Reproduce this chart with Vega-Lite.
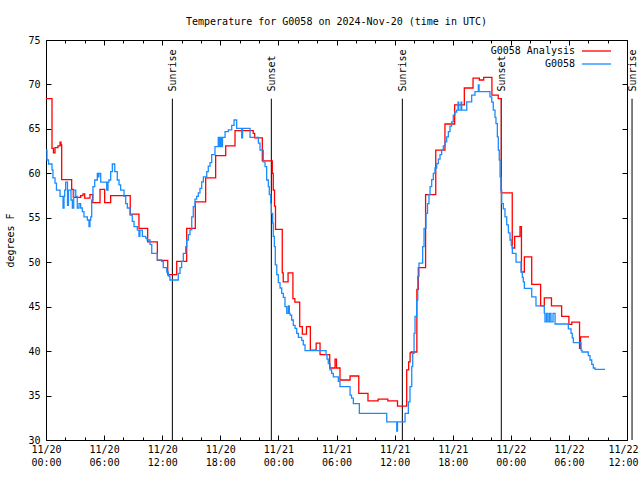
{
  "$schema": "https://vega.github.io/schema/vega-lite/v6.json",
  "width": 581,
  "height": 400,
  "autosize": {"type": "none"},
  "padding": {"left": 46, "top": 40, "right": 13, "bottom": 40},
  "background": "white",
  "title": {"text": "Temperature for G0058 on 2024-Nov-20 (time in UTC)", "font": "DejaVu Sans Mono", "fontSize": 10, "fontWeight": "normal", "color": "black", "offset": 8, "anchor": "middle"},
  "config": {
    "view": {"stroke": "black", "strokeWidth": 1},
    "font": "DejaVu Sans Mono",
    "axis": {"grid": false, "domain": false, "tickColor": "black", "labelColor": "black", "labelFont": "DejaVu Sans Mono", "labelFontSize": 10, "titleFont": "DejaVu Sans Mono", "titleFontSize": 10, "titleFontWeight": "normal", "titleColor": "black"}
  },
  "datasets": {
    "sun": [
      {"h": 13.05, "label": "Sunrise"},
      {"h": 23.27, "label": "Sunset"},
      {"h": 36.8, "label": "Sunrise"},
      {"h": 47.02, "label": "Sunset"},
      {"h": 60.52, "label": "Sunrise"}
    ],
    "analysis": [
      {"h": 0, "t": 68.4}, {"h": 0.62, "t": 62.8}, {"h": 0.77, "t": 62.3}, {"h": 0.93, "t": 62.9}, {"h": 1.24, "t": 63.1}, {"h": 1.45, "t": 63.5}, {"h": 1.55, "t": 63.2}, {"h": 1.62, "t": 59.3}, {"h": 2.65, "t": 58.2}, {"h": 2.82, "t": 57.3}, {"h": 3.58, "t": 57.5}, {"h": 3.82, "t": 57.7}, {"h": 4.0, "t": 57.2}, {"h": 4.54, "t": 57.6}, {"h": 4.82, "t": 56.7}, {"h": 5.58, "t": 58.2}, {"h": 6.06, "t": 56.7}, {"h": 6.68, "t": 57.5}, {"h": 8.7, "t": 55.4}, {"h": 9.6, "t": 53.8}, {"h": 10.5, "t": 52.3}, {"h": 11.5, "t": 50.2}, {"h": 12.57, "t": 48.6}, {"h": 13.5, "t": 50.1}, {"h": 14.53, "t": 53.8}, {"h": 15.42, "t": 56.8}, {"h": 16.49, "t": 59.5}, {"h": 17.52, "t": 62.0}, {"h": 18.56, "t": 63.1}, {"h": 19.52, "t": 64.8}, {"h": 21.4, "t": 64.5}, {"h": 21.55, "t": 64.0}, {"h": 22.34, "t": 61.4}, {"h": 23.37, "t": 60.0}, {"h": 23.47, "t": 58.1}, {"h": 23.6, "t": 56.3}, {"h": 23.7, "t": 53.7}, {"h": 24.4, "t": 48.8}, {"h": 24.5, "t": 47.8}, {"h": 25.0, "t": 48.8}, {"h": 25.5, "t": 45.9}, {"h": 25.7, "t": 45.5}, {"h": 26.2, "t": 42.75}, {"h": 26.47, "t": 41.9}, {"h": 26.9, "t": 42.75}, {"h": 27.3, "t": 40.1}, {"h": 27.9, "t": 40.9}, {"h": 28.3, "t": 39.6}, {"h": 29.3, "t": 38.1}, {"h": 29.85, "t": 39.1}, {"h": 30.0, "t": 38.1}, {"h": 30.36, "t": 36.75}, {"h": 31.4, "t": 37.2}, {"h": 32.3, "t": 35.25}, {"h": 33.25, "t": 34.4}, {"h": 34.3, "t": 34.6}, {"h": 35.3, "t": 34.4}, {"h": 36.3, "t": 33.8}, {"h": 37.25, "t": 37.9}, {"h": 37.45, "t": 38.8}, {"h": 37.6, "t": 39.8}, {"h": 37.7, "t": 39.9}, {"h": 38.3, "t": 46.95}, {"h": 38.45, "t": 49.4}, {"h": 39.2, "t": 57.6}, {"h": 40.25, "t": 62.6}, {"h": 41.2, "t": 65.55}, {"h": 42.2, "t": 67.7}, {"h": 43.2, "t": 69.6}, {"h": 44.1, "t": 70.7}, {"h": 44.75, "t": 70.5}, {"h": 45.2, "t": 70.8}, {"h": 46.05, "t": 68.8}, {"h": 46.7, "t": 68.4}, {"h": 47.02, "t": 57.8}, {"h": 48.15, "t": 51.6}, {"h": 48.4, "t": 52.9}, {"h": 48.95, "t": 54.0}, {"h": 49.1, "t": 48.9}, {"h": 49.4, "t": 50.6}, {"h": 50.16, "t": 47.5}, {"h": 51.08, "t": 45.1}, {"h": 51.46, "t": 46.0}, {"h": 52.2, "t": 45.1}, {"h": 53.25, "t": 43.9}, {"h": 54.0, "t": 43.0}, {"h": 54.3, "t": 43.25}, {"h": 55.1, "t": 40.3}, {"h": 55.2, "t": 41.6}, {"h": 56.08, "t": 41.6}
    ],
    "obs": [
      {"h": 0, "t": 62.6}, {"h": 0.1, "t": 61.5}, {"h": 0.26, "t": 61.05}, {"h": 0.62, "t": 60.4}, {"h": 0.72, "t": 59.5}, {"h": 0.93, "t": 58.9}, {"h": 1.08, "t": 58.1}, {"h": 1.45, "t": 57.4}, {"h": 1.76, "t": 56.1}, {"h": 1.86, "t": 57.4}, {"h": 1.93, "t": 58.1}, {"h": 2.03, "t": 59.0}, {"h": 2.22, "t": 56.4}, {"h": 2.32, "t": 58.1}, {"h": 2.58, "t": 57.0}, {"h": 2.72, "t": 56.1}, {"h": 2.86, "t": 58.1}, {"h": 3.07, "t": 57.4}, {"h": 3.23, "t": 56.1}, {"h": 3.41, "t": 56.6}, {"h": 3.58, "t": 56.1}, {"h": 3.75, "t": 55.7}, {"h": 3.92, "t": 55.1}, {"h": 4.27, "t": 54.75}, {"h": 4.44, "t": 54.0}, {"h": 4.54, "t": 54.75}, {"h": 4.62, "t": 55.1}, {"h": 4.72, "t": 57.0}, {"h": 4.85, "t": 58.5}, {"h": 5.03, "t": 59.25}, {"h": 5.3, "t": 60.0}, {"h": 5.37, "t": 59.6}, {"h": 5.47, "t": 60.0}, {"h": 5.65, "t": 59.0}, {"h": 6.27, "t": 58.1}, {"h": 6.4, "t": 59.0}, {"h": 6.5, "t": 59.25}, {"h": 6.68, "t": 60.2}, {"h": 6.85, "t": 61.05}, {"h": 7.1, "t": 60.2}, {"h": 7.36, "t": 59.25}, {"h": 7.54, "t": 58.7}, {"h": 7.71, "t": 58.1}, {"h": 8.06, "t": 57.4}, {"h": 8.23, "t": 56.6}, {"h": 8.4, "t": 56.1}, {"h": 8.68, "t": 55.3}, {"h": 8.91, "t": 54.6}, {"h": 9.09, "t": 54.0}, {"h": 9.43, "t": 53.6}, {"h": 9.6, "t": 52.9}, {"h": 9.7, "t": 53.6}, {"h": 9.95, "t": 52.9}, {"h": 10.3, "t": 52.7}, {"h": 10.43, "t": 52.5}, {"h": 10.74, "t": 52.0}, {"h": 10.92, "t": 51.0}, {"h": 11.5, "t": 50.25}, {"h": 11.95, "t": 50.1}, {"h": 12.11, "t": 49.4}, {"h": 12.47, "t": 48.9}, {"h": 12.63, "t": 48.45}, {"h": 12.8, "t": 48.0}, {"h": 13.66, "t": 48.75}, {"h": 13.84, "t": 49.4}, {"h": 14.01, "t": 50.1}, {"h": 14.18, "t": 51.0}, {"h": 14.43, "t": 51.75}, {"h": 14.53, "t": 52.5}, {"h": 14.7, "t": 53.1}, {"h": 14.87, "t": 53.65}, {"h": 15.05, "t": 55.1}, {"h": 15.21, "t": 56.25}, {"h": 15.39, "t": 57.1}, {"h": 15.56, "t": 57.4}, {"h": 15.73, "t": 57.8}, {"h": 15.9, "t": 58.3}, {"h": 16.08, "t": 59.05}, {"h": 16.25, "t": 59.6}, {"h": 16.6, "t": 60.2}, {"h": 16.76, "t": 60.8}, {"h": 16.94, "t": 61.2}, {"h": 17.11, "t": 62.1}, {"h": 17.45, "t": 63.0}, {"h": 17.79, "t": 64.05}, {"h": 17.9, "t": 63.0}, {"h": 18.0, "t": 64.05}, {"h": 18.12, "t": 63.0}, {"h": 18.23, "t": 64.05}, {"h": 18.49, "t": 64.7}, {"h": 18.83, "t": 64.9}, {"h": 19.18, "t": 65.4}, {"h": 19.42, "t": 66.0}, {"h": 19.69, "t": 65.05}, {"h": 20.21, "t": 64.0}, {"h": 20.3, "t": 65.05}, {"h": 21.07, "t": 64.05}, {"h": 21.93, "t": 63.4}, {"h": 22.1, "t": 62.6}, {"h": 22.44, "t": 61.3}, {"h": 22.62, "t": 60.75}, {"h": 22.79, "t": 59.25}, {"h": 22.96, "t": 58.5}, {"h": 23.06, "t": 57.6}, {"h": 23.21, "t": 56.6}, {"h": 23.27, "t": 55.5}, {"h": 23.41, "t": 54.4}, {"h": 23.47, "t": 52.9}, {"h": 23.58, "t": 51.75}, {"h": 23.68, "t": 49.7}, {"h": 23.83, "t": 48.6}, {"h": 23.99, "t": 47.7}, {"h": 24.17, "t": 47.1}, {"h": 24.34, "t": 46.5}, {"h": 24.51, "t": 46.05}, {"h": 24.68, "t": 45.0}, {"h": 24.86, "t": 44.25}, {"h": 25.02, "t": 45.1}, {"h": 25.13, "t": 44.25}, {"h": 25.2, "t": 44.05}, {"h": 25.37, "t": 43.5}, {"h": 25.54, "t": 42.9}, {"h": 25.72, "t": 42.55}, {"h": 25.89, "t": 42.0}, {"h": 26.06, "t": 41.55}, {"h": 26.41, "t": 41.2}, {"h": 26.57, "t": 40.7}, {"h": 26.75, "t": 40.05}, {"h": 28.92, "t": 39.6}, {"h": 29.02, "t": 39.1}, {"h": 29.15, "t": 38.6}, {"h": 29.33, "t": 37.9}, {"h": 29.5, "t": 37.5}, {"h": 29.67, "t": 37.1}, {"h": 30.19, "t": 36.6}, {"h": 30.36, "t": 36.0}, {"h": 31.4, "t": 35.05}, {"h": 31.55, "t": 34.7}, {"h": 31.74, "t": 34.1}, {"h": 32.36, "t": 33.0}, {"h": 35.19, "t": 32.05}, {"h": 36.22, "t": 31.0}, {"h": 36.3, "t": 32.05}, {"h": 37.08, "t": 33.0}, {"h": 37.42, "t": 34.3}, {"h": 37.59, "t": 36.0}, {"h": 37.77, "t": 38.25}, {"h": 37.87, "t": 39.75}, {"h": 38.01, "t": 42.0}, {"h": 38.11, "t": 43.9}, {"h": 38.28, "t": 45.75}, {"h": 38.39, "t": 48.4}, {"h": 38.52, "t": 49.9}, {"h": 38.9, "t": 51.75}, {"h": 39.04, "t": 53.8}, {"h": 39.24, "t": 55.5}, {"h": 39.4, "t": 56.6}, {"h": 39.55, "t": 57.6}, {"h": 39.66, "t": 58.5}, {"h": 39.83, "t": 59.3}, {"h": 40.0, "t": 60.0}, {"h": 40.17, "t": 60.6}, {"h": 40.35, "t": 61.1}, {"h": 40.52, "t": 61.6}, {"h": 40.69, "t": 62.1}, {"h": 40.86, "t": 62.6}, {"h": 41.03, "t": 63.1}, {"h": 41.21, "t": 63.55}, {"h": 41.38, "t": 64.1}, {"h": 41.55, "t": 64.7}, {"h": 41.72, "t": 65.3}, {"h": 41.89, "t": 65.8}, {"h": 42.06, "t": 66.55}, {"h": 42.23, "t": 66.9}, {"h": 42.41, "t": 67.1}, {"h": 42.55, "t": 68.0}, {"h": 42.62, "t": 67.1}, {"h": 42.86, "t": 68.0}, {"h": 42.93, "t": 67.1}, {"h": 43.45, "t": 68.05}, {"h": 43.96, "t": 68.8}, {"h": 44.3, "t": 69.2}, {"h": 44.65, "t": 69.95}, {"h": 44.72, "t": 69.2}, {"h": 45.85, "t": 68.6}, {"h": 46.03, "t": 68.0}, {"h": 46.19, "t": 67.1}, {"h": 46.37, "t": 66.3}, {"h": 46.47, "t": 65.6}, {"h": 46.61, "t": 64.1}, {"h": 46.71, "t": 62.6}, {"h": 46.81, "t": 61.5}, {"h": 46.89, "t": 59.6}, {"h": 46.99, "t": 58.1}, {"h": 47.06, "t": 56.6}, {"h": 47.23, "t": 56.0}, {"h": 47.4, "t": 55.1}, {"h": 47.58, "t": 54.2}, {"h": 47.75, "t": 53.3}, {"h": 47.92, "t": 52.5}, {"h": 48.05, "t": 51.9}, {"h": 48.16, "t": 51.0}, {"h": 48.54, "t": 50.0}, {"h": 49.06, "t": 48.9}, {"h": 49.19, "t": 48.3}, {"h": 49.29, "t": 47.8}, {"h": 49.4, "t": 47.05}, {"h": 50.16, "t": 46.1}, {"h": 50.6, "t": 45.1}, {"h": 51.46, "t": 44.25}, {"h": 51.53, "t": 43.3}, {"h": 51.69, "t": 44.25}, {"h": 51.84, "t": 43.3}, {"h": 52.0, "t": 44.25}, {"h": 52.15, "t": 43.3}, {"h": 52.36, "t": 44.25}, {"h": 52.57, "t": 43.05}, {"h": 53.94, "t": 42.5}, {"h": 54.22, "t": 42.0}, {"h": 54.35, "t": 41.5}, {"h": 54.46, "t": 40.95}, {"h": 55.25, "t": 40.1}, {"h": 55.35, "t": 39.9}, {"h": 56.0, "t": 39.5}, {"h": 56.18, "t": 39.0}, {"h": 56.36, "t": 38.5}, {"h": 56.52, "t": 38.1}, {"h": 56.7, "t": 37.95}, {"h": 57.73, "t": 37.95}
    ]
  },
  "layer": [
    {
      "data": {"name": "sun"},
      "mark": {"type": "rule", "color": "black", "strokeWidth": 1, "clip": false},
      "encoding": {
        "x": {"field": "h", "type": "quantitative", "scale": {"domain": [0, 60], "nice": false, "zero": false}, "axis": null},
        "y": {"datum": 30, "type": "quantitative", "scale": {"domain": [30, 75], "nice": false, "zero": false}, "axis": null},
        "y2": {"datum": 68.4}
      }
    },
    {
      "data": {"name": "sun"},
      "mark": {"type": "text", "angle": 270, "align": "left", "baseline": "middle", "dy": 1, "font": "DejaVu Sans Mono", "fontSize": 10, "color": "black", "clip": false},
      "encoding": {
        "x": {"field": "h", "type": "quantitative", "axis": null},
        "y": {"datum": 69.2, "type": "quantitative", "axis": null},
        "text": {"field": "label"}
      }
    },
    {
      "data": {"name": "analysis"},
      "mark": {"type": "line", "interpolate": "step-after", "strokeWidth": 1.3},
      "encoding": {
        "x": {"field": "h", "type": "quantitative", "axis": {
          "orient": "bottom", "values": [0,2,4,6,8,10,12,14,16,18,20,22,24,26,28,30,32,34,36,38,40,42,44,46,48,50,52,54,56,58,60],
          "labelExpr": "datum.value % 6 === 0 ? ['11/' + (20 + floor(datum.value / 24)), (datum.value % 24 < 10 ? '0' : '') + (datum.value % 24) + ':00'] : ''",
          "labelFlush": false, "labelOverlap": false, "labelPadding": 9, "labelLineHeight": 13, "labelBaseline": "top",
          "labelOffset": {"condition": {"test": "datum.value === 60", "value": -4}, "value": 0},
          "tickSize": {"condition": {"test": "datum.value % 6 === 0", "value": -5}, "value": -3},
          "title": null
        }},
        "y": {"field": "t", "type": "quantitative", "axis": {
          "orient": "left", "values": [30,35,40,45,50,55,60,65,70,75], "tickSize": -5, "labelPadding": 11,
          "title": "degrees F", "titlePadding": 12
        }},
        "color": {"datum": "G0058 Analysis", "type": "nominal", "scale": {"domain": ["G0058 Analysis", "G0058"], "range": ["#ff0000", "#1a8cff"]},
          "legend": {"orient": "none", "legendX": 544, "legendY": 4.5, "title": null, "padding": 0, "symbolType": "M-2.5,0H2.5", "symbolSize": 135, "symbolStrokeWidth": 1.3, "labelAlign": "right", "labelOffset": -28, "labelFont": "DejaVu Sans Mono", "labelFontSize": 10, "labelColor": "black", "rowPadding": 1}}
      }
    },
    {
      "data": {"name": "obs"},
      "mark": {"type": "line", "interpolate": "step-after", "strokeWidth": 1.3},
      "encoding": {
        "x": {"field": "h", "type": "quantitative", "axis": null},
        "y": {"field": "t", "type": "quantitative", "axis": null},
        "color": {"datum": "G0058", "type": "nominal"}
      }
    },
    {
      "data": {"name": "obs"},
      "mark": {"type": "line", "strokeOpacity": 0},
      "encoding": {
        "x": {"field": "h", "type": "quantitative", "axis": {
          "orient": "top", "values": [0,2,4,6,8,10,12,14,16,18,20,22,24,26,28,30,32,34,36,38,40,42,44,46,48,50,52,54,56,58,60],
          "labels": false, "title": null,
          "tickSize": {"condition": {"test": "datum.value % 6 === 0", "value": -5}, "value": -3}
        }},
        "y": {"field": "t", "type": "quantitative", "axis": {
          "orient": "right", "values": [30,35,40,45,50,55,60,65,70,75], "labels": false, "title": null, "tickSize": -5
        }}
      }
    }
  ],
  "resolve": {"axis": {"x": "independent", "y": "independent"}}
}
